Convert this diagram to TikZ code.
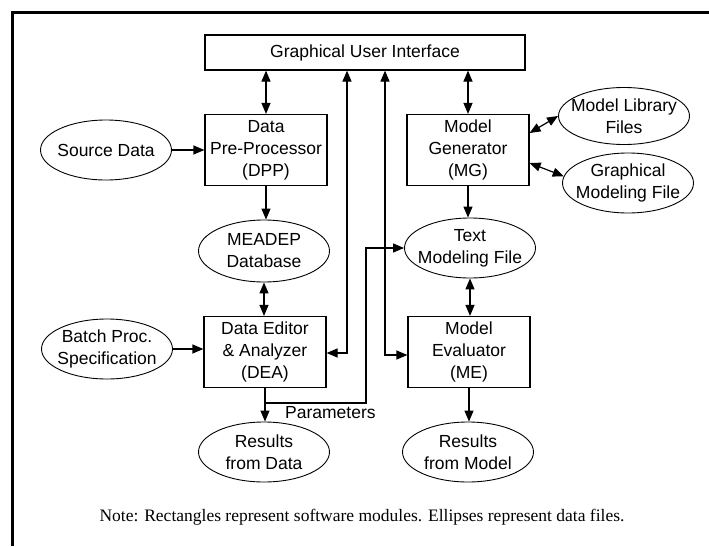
\documentclass[tikz,border=0pt]{standalone}
\usepackage{fontspec}
\setmainfont{Liberation Serif}
\setsansfont{Liberation Sans}
\usetikzlibrary{shapes.geometric,arrows.meta,calc}

% a line of text that takes no width, so ellipses keep their set size
\newcommand\oneline[1]{\makebox[0pt][c]{#1}}

\begin{document}
\begin{tikzpicture}[x=1pt,y=1pt,
  every node/.style={font=\sffamily\fontsize{17.5}{22}\selectfont},
  module/.style={draw, line width=1.2pt, minimum width=122pt, minimum height=71pt, inner sep=2pt, align=center},
  datafile/.style={draw, ellipse, line width=0.9pt, minimum width=131pt, minimum height=60pt, inner sep=0pt, align=center},
  tip/.tip={Triangle[length=11pt,width=9pt]},
  arr/.style={line width=1.2pt, -tip},
  dbl/.style={line width=1.2pt, tip-tip},
]
\useasboundingbox (0,0) rectangle (709,-546);
% frame
\draw[line width=3pt] (12.5,-546) -- (12.5,-12) -- (709,-12);

% software modules
\node[module, minimum width=320pt, minimum height=35pt] (gui) at (365,-52.5) {Graphical User Interface};
\node[module] (dpp) at (266,-150) {Data\\Pre-Processor\\(DPP)};
\node[module] (mg)  at (468,-150) {Model\\Generator\\(MG)};
\node[module] (dea) at (265,-352) {Data Editor\\\& Analyzer\\(DEA)};
\node[module] (me)  at (469,-352) {Model\\Evaluator\\(ME)};

% data files
\node[datafile] (src) at (106,-150) {\oneline{Source Data}};
\node[datafile, minimum height=62pt] (mdb) at (264,-251) {\oneline{MEADEP}\\\oneline{Database}};
\node[datafile, minimum height=57pt] (mlf) at (624,-116) {\oneline{Model Library}\\\oneline{Files}};
\node[datafile] (gmf) at (628,-183) {\oneline{Graphical}\\\oneline{Modeling File}};
\node[datafile] (tmf) at (470,-248) {\oneline{Text}\\\oneline{Modeling File}};
\node[datafile] (bps) at (107,-349) {\oneline{Batch Proc.}\\\oneline{Specification}};
\node[datafile] (rfd) at (264,-452) {\oneline{Results}\\\oneline{from Data}};
\node[datafile] (rfm) at (468,-452) {\oneline{Results}\\\oneline{from Model}};

% connectors
\draw[dbl] (dpp.north |- gui.south) -- (dpp.north);
\draw[arr] (dpp.south) -- (dpp.south |- mdb.north);
\draw[dbl] (mdb.south) -- (mdb.south |- dea.north);
\draw[arr] (src.east) -- (src.east -| dpp.west);
\draw[arr] (bps.east) -- (bps.east -| dea.west);
\draw[arr] (dea.south) -- (dea.south |- rfd.north);

\coordinate (pj) at (366,-403);
\draw[arr] (dea.south |- pj) -- (pj) |- (tmf.west);
\node[anchor=base west, inner sep=0pt] (par) at (285,-418) {Parameters};

\draw[dbl] (mg.north |- gui.south) -- (mg.north);
\draw[arr] (mg.south) -- (mg.south |- tmf.north);
\draw[dbl] (tmf.south) -- (tmf.south |- me.north);
\draw[arr] (me.south) -- (me.south |- rfm.north);
\draw[dbl] ([yshift=17pt]mg.east) -- (mlf.west);
\draw[dbl] ([yshift=-13pt]mg.east) -- (gmf.174);

\coordinate (gd) at (347,-353);
\draw[dbl] (gd |- gui.south) -- (gd) -- (gd -| dea.east);
\coordinate (gm) at (385,-355);
\draw[dbl] (gm |- gui.south) -- (gm) -- (gm -| me.west);

% legend
\node[font=\rmfamily\fontsize{17.5}{21}\selectfont] (note) at (362,-517)
  {Note: Rectangles represent software modules. Ellipses represent data files.};
\end{tikzpicture}
\end{document}
